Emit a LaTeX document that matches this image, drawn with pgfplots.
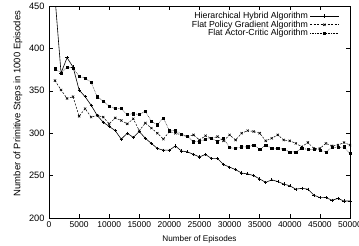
\documentclass[border=0pt]{standalone}
\usepackage{fontspec}
\setmainfont{Liberation Sans}
\usepackage{pgfplots}
\pgfplotsset{compat=1.18}
\usepackage{pgfplotstable}

\pgfplotstableread{
x v
1000 460
2000 371
3000 389
4000 378
5000 351
6000 343
7000 333
8000 321
9000 313
10000 308
11000 303
12000 293
13000 300
14000 295
15000 302
16000 294
17000 288
18000 282
19000 280
20000 280
21000 285
22000 279
23000 278
24000 275
25000 272
26000 275
27000 270
28000 270
29000 263
30000 260
31000 257
32000 253
33000 252
34000 250
35000 246
36000 242
37000 245
38000 243
39000 240
40000 238
41000 234
42000 235
43000 234
44000 227
45000 224
46000 224
47000 221
48000 223
49000 220
50000 220
}\hier

\pgfplotstableread{
x v
1000 362
2000 351
3000 341
4000 343
5000 320
6000 329
7000 319
8000 321
9000 319
10000 311
11000 318
12000 315
13000 311
14000 317
15000 303
16000 312
17000 306
18000 300
19000 293
20000 302
21000 300
22000 298
23000 296
24000 298
25000 292
26000 297
27000 294
28000 296
29000 291
30000 298
31000 292
32000 300
33000 303
34000 302
35000 300
36000 291
37000 294
38000 298
39000 292
40000 291
41000 288
42000 284
43000 289
44000 282
45000 282
46000 288
47000 285
48000 286
49000 289
50000 286
}\pg

\pgfplotstableread{
x v
1000 376
2000 371
3000 378
4000 377
5000 367
6000 365
7000 360
8000 343
9000 338
10000 332
11000 329
12000 329
13000 322
14000 323
15000 322
16000 326
17000 314
18000 310
19000 318
20000 303
21000 303
22000 299
23000 296
24000 290
25000 290
26000 293
27000 294
28000 290
29000 294
30000 283
31000 282
32000 284
33000 284
34000 286
35000 281
36000 286
37000 282
38000 282
39000 281
40000 278
41000 278
42000 282
43000 281
44000 281
45000 280
46000 278
47000 283
48000 283
49000 284
50000 276
}\ac

\begin{document}
\begin{tikzpicture}
\begin{axis}[
  name=main,
  scale only axis,
  width=301bp, height=212bp,
  xmin=0, xmax=50000, ymin=200, ymax=450,
  xtick={0,5000,...,50000},
  ytick={200,250,...,450},
  scaled x ticks=false,
  /pgf/number format/1000 sep={},
  /pgf/number format/assume math mode=true,
  xticklabel style={font=\fontsize{8.5}{10}\selectfont},
  yticklabel style={font=\fontsize{9.3}{10}\selectfont, xshift=-1bp},
  xlabel={Number of Episodes},
  ylabel={Number of Primitive Steps in 1000 Episodes},
  xlabel style={font=\fontsize{8.2}{10}\selectfont, at={(axis description cs:0.5,-0.112)}, anchor=base},
  ylabel style={font=\fontsize{9.5}{10}\selectfont, at={(axis description cs:-0.103,0.54)}, anchor=center},
  tick align=inside,
  major tick length=4bp,
  xtick pos=both, ytick pos=both,
  axis line style={line width=0.8pt},
  every tick/.style={black, line width=0.5pt},
  legend style={draw=none, fill=none, at={(0.967,0.986)}, anchor=north east,
    font=\fontsize{8.8}{10}\selectfont, row sep=-3.2pt, inner sep=1pt},
  legend cell align=right,
  legend plot pos=right,
  legend image code/.code={\draw[mark repeat=2,mark phase=2,#1] plot coordinates {(0cm,0cm) (0.5cm,0cm) (1cm,0cm)};},
]
\addplot[black, line width=0.6pt, mark=+, mark size=1.6pt, mark options={solid, line width=0.5pt}] table[x=x,y=v] {\hier};
\addlegendentry{Hierarchical Hybrid Algorithm}
\addplot[black, line width=0.5pt, dash pattern=on 2pt off 1.5pt, mark=x, mark size=1.6pt, mark options={solid, line width=0.6pt}] table[x=x,y=v] {\pg};
\addlegendentry{Flat Policy Gradient Algorithm}
\addplot[black, line width=0.5pt, dash pattern=on 0.6pt off 1pt, mark=square*, mark size=1.1pt, mark options={solid}] table[x=x,y=v] {\ac};
\addlegendentry{Flat Actor-Critic Algorithm}
\end{axis}
\pgfresetboundingbox
\path[use as bounding box] ([shift={(-49bp,-28bp)}]main.south west) rectangle ([shift={(9bp,6bp)}]main.north east);
\end{tikzpicture}
\end{document}
